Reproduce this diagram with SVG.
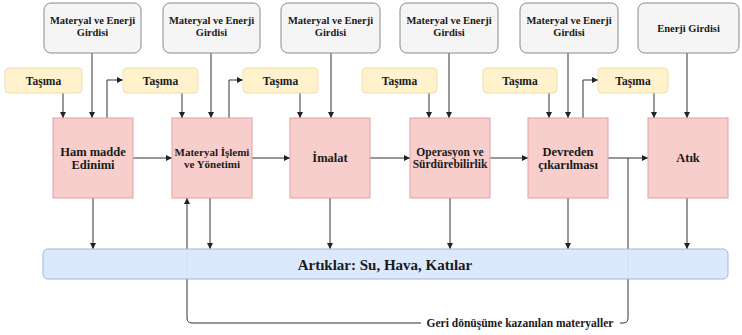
<svg xmlns="http://www.w3.org/2000/svg" width="742" height="335" viewBox="0 0 742 335">
<style>
.t{font-family:"Liberation Serif","Times New Roman",serif;font-weight:bold;fill:#1a1a1a;text-anchor:middle}
.gray{fill:#f5f5f5;stroke:#8a8a8a;stroke-width:1}
.yel{fill:#fff2cc;stroke:#eedfa8;stroke-width:1}
.pink{fill:#f8cecc;stroke:#e0a0a0;stroke-width:1}
.blue{fill:#dae8fc;stroke:#9fb7d9;stroke-width:1}
.ca{fill:none;stroke:#333;stroke-width:1;marker-end:url(#ah)}
</style>
<defs>
<marker id="ah" viewBox="0 0 8 8" refX="8" refY="4" markerWidth="6" markerHeight="6" markerUnits="userSpaceOnUse" orient="auto">
<path d="M0,0 L8,4 L0,8 z" fill="#222"/>
</marker>
</defs>
<rect width="742" height="335" fill="#ffffff"/>

<g id="connectors">
<path class="ca" d="M92,53 V118"/>
<path class="ca" d="M211,53 V118"/>
<path class="ca" d="M331,53 V118"/>
<path class="ca" d="M449,53 V118"/>
<path class="ca" d="M568,53 V118"/>
<path class="ca" d="M687,53 V118"/>
<path class="ca" d="M63,93 V118"/>
<path class="ca" d="M182,93 V118"/>
<path class="ca" d="M300,93 V118"/>
<path class="ca" d="M429,93 V118"/>
<path class="ca" d="M549,93 V118"/>
<path class="ca" d="M654,93 V118"/>
<path class="ca" d="M107,118 V80 H123"/>
<path class="ca" d="M229,118 V80 H243"/>
<path class="ca" d="M583,118 V80 H598"/>
<path class="ca" d="M133,158 H172"/>
<path class="ca" d="M252,158 H290"/>
<path class="ca" d="M370,158 H410"/>
<path class="ca" d="M490,158 H528"/>
<path class="ca" d="M608,158 H648"/>
<path class="ca" d="M93,198 V249"/>
<path class="ca" d="M210,198 V249"/>
<path class="ca" d="M330,198 V249"/>
<path class="ca" d="M450,198 V249"/>
<path class="ca" d="M568,198 V249"/>
<path class="ca" d="M687,198 V249"/>
<path class="ca" d="M628,158 V318 Q628,323 623,323 H192 Q187,323 187,318 V198"/>
</g>

<g id="waste">
<rect class="blue" x="43" y="249" width="685" height="30" rx="5" fill-opacity="0.95"/>
<text class="t" x="385" y="269.5" font-size="15">Artıklar: Su, Hava, Katılar</text>
</g>

<g id="recycle-label">
<rect x="421" y="316" width="199" height="14" fill="#ffffff"/>
<text class="t" x="520" y="327" font-size="11.5">Geri dönüşüme kazanılan materyaller</text>
</g>

<g id="in1"><rect class="gray" x="44" y="3" width="97" height="50" rx="7"/><text class="t" x="92.5" y="24" font-size="10.5">Materyal ve Enerji</text><text class="t" x="92.5" y="36" font-size="10.5">Girdisi</text></g>
<g id="in2"><rect class="gray" x="163" y="3" width="97" height="50" rx="7"/><text class="t" x="211.5" y="24" font-size="10.5">Materyal ve Enerji</text><text class="t" x="211.5" y="36" font-size="10.5">Girdisi</text></g>
<g id="in3"><rect class="gray" x="281" y="3" width="99" height="50" rx="7"/><text class="t" x="330.5" y="24" font-size="10.5">Materyal ve Enerji</text><text class="t" x="330.5" y="36" font-size="10.5">Girdisi</text></g>
<g id="in4"><rect class="gray" x="400" y="3" width="98" height="50" rx="7"/><text class="t" x="449" y="24" font-size="10.5">Materyal ve Enerji</text><text class="t" x="449" y="36" font-size="10.5">Girdisi</text></g>
<g id="in5"><rect class="gray" x="520" y="3" width="98" height="50" rx="7"/><text class="t" x="569" y="24" font-size="10.5">Materyal ve Enerji</text><text class="t" x="569" y="36" font-size="10.5">Girdisi</text></g>
<g id="in6"><rect class="gray" x="638" y="3" width="101" height="50" rx="7"/><text class="t" x="688.5" y="32" font-size="10.5">Enerji Girdisi</text></g>

<g id="tr1"><rect class="yel" x="5" y="68" width="77" height="25" rx="4"/><text class="t" x="43.5" y="85" font-size="11.5">Taşıma</text></g>
<g id="tr2"><rect class="yel" x="123" y="68" width="75" height="25" rx="4"/><text class="t" x="160.5" y="85" font-size="11.5">Taşıma</text></g>
<g id="tr3"><rect class="yel" x="243" y="68" width="75" height="25" rx="4"/><text class="t" x="280.5" y="85" font-size="11.5">Taşıma</text></g>
<g id="tr4"><rect class="yel" x="362" y="68" width="75" height="25" rx="4"/><text class="t" x="399.5" y="85" font-size="11.5">Taşıma</text></g>
<g id="tr5"><rect class="yel" x="483" y="68" width="74" height="25" rx="4"/><text class="t" x="520" y="85" font-size="11.5">Taşıma</text></g>
<g id="tr6"><rect class="yel" x="598" y="68" width="70" height="25" rx="4"/><text class="t" x="633" y="85" font-size="11.5">Taşıma</text></g>

<g id="p1"><rect class="pink" x="53" y="118" width="80" height="80"/><text class="t" x="93" y="156" font-size="12.5">Ham madde</text><text class="t" x="93" y="169" font-size="12.5">Edinimi</text></g>
<g id="p2"><rect class="pink" x="172" y="118" width="80" height="80"/><text class="t" x="212" y="156" font-size="11">Materyal İşlemi</text><text class="t" x="212" y="168" font-size="11">ve Yönetimi</text></g>
<g id="p3"><rect class="pink" x="290" y="118" width="80" height="80"/><text class="t" x="330" y="162" font-size="12.5">İmalat</text></g>
<g id="p4"><rect class="pink" x="410" y="118" width="80" height="80"/><text class="t" x="450" y="156" font-size="11.5">Operasyon ve</text><text class="t" x="450" y="168" font-size="11.5">Sürdürebilirlik</text></g>
<g id="p5"><rect class="pink" x="528" y="118" width="80" height="80"/><text class="t" x="568" y="156" font-size="12.5">Devreden</text><text class="t" x="568" y="169" font-size="12.5">çıkarılması</text></g>
<g id="p6"><rect class="pink" x="648" y="118" width="80" height="80"/><text class="t" x="688" y="162" font-size="12.5">Atık</text></g>
</svg>
